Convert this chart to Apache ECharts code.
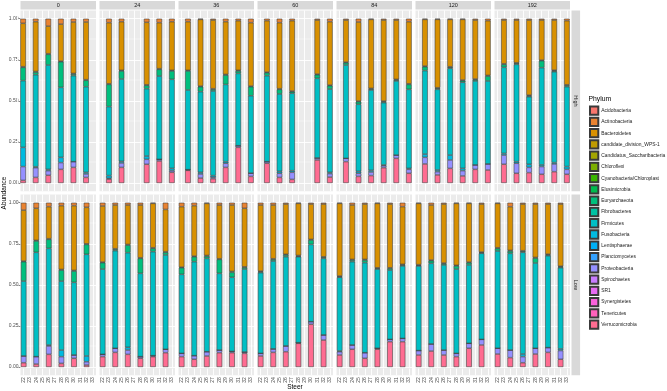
<!DOCTYPE html>
<html>
<head>
<meta charset="utf-8">
<script src="https://cdn.jsdelivr.net/npm/echarts@6/dist/echarts.min.js"></script>
<style>
html,body{margin:0;padding:0;background:#fff;}
#c{width:667px;height:391px;}
</style>
</head>
<body>
<div id="c"></div>
<script>
// ---------------- DATA ----------------
const times = ['0', '24', '36', '60', '84', '120', '192'];
const groups = ['High', 'Low'];
const steers = ['22', '23', '24', '25', '26', '27', '28', '29', '30', '31', '32', '33'];
const phyla = ['Acidobacteria', 'Actinobacteria', 'Bacteroidetes', 'candidate_division_WPS-1',
  'Candidatus_Saccharibacteria', 'Chloroflexi', 'Cyanobacteria/Chloroplast', 'Elusimicrobia',
  'Euryarchaeota', 'Fibrobacteres', 'Firmicutes', 'Fusobacteria', 'Lentisphaerae', 'Planctomycetes',
  'Proteobacteria', 'Spirochaetes', 'SR1', 'Synergistetes', 'Tenericutes', 'Verrucomicrobia'];

// panel order: 0/High, 0/Low, 24/High, 24/Low, ... 192/Low ; steer indices present in each panel
const panelSteers = [
  [1, 3, 5, 7, 9, 11], [0, 2, 4, 6, 8, 10],
  [1, 3, 7, 9, 11], [0, 2, 4, 6, 8, 10],
  [1, 3, 5, 7, 9, 11], [0, 2, 4, 6, 8, 10],
  [1, 3, 5, 9, 11], [0, 2, 4, 6, 8, 10],
  [1, 3, 5, 7, 9, 11], [0, 2, 4, 6, 8, 10],
  [1, 3, 5, 7, 9, 11], [0, 2, 4, 6, 8, 10],
  [1, 3, 5, 7, 9, 11], [0, 2, 4, 6, 8, 10]
];

const verrucomicrobia = [
  [0.016, 0.034, 0.047, 0.083, 0.095, 0.034], [0.026, 0.018, 0.077, 0.022, 0.053, 0.012],
  [0.024, 0.095, 0.114, 0.134, 0.065], [0.063, 0.089, 0.077, 0.053, 0.063, 0.087],
  [0.077, 0.030, 0.026, 0.095, 0.217, 0.040], [0.063, 0.047, 0.067, 0.087, 0.087, 0.083],
  [0.120, 0.034, 0.022, 0.140, 0.036], [0.067, 0.089, 0.093, 0.144, 0.260, 0.164],
  [0.130, 0.040, 0.045, 0.093, 0.150, 0.059], [0.073, 0.108, 0.053, 0.108, 0.154, 0.154],
  [0.116, 0.049, 0.089, 0.043, 0.083, 0.079], [0.073, 0.097, 0.073, 0.063, 0.114, 0.134],
  [0.114, 0.059, 0.063, 0.053, 0.069, 0.053], [0.079, 0.057, 0.026, 0.079, 0.089, 0.047]
];
const proteobacteria = [
  [0.084, 0.059, 0.028, 0.041, 0.035, 0.021], [0.041, 0.045, 0.051, 0.041, 0.020, 0.020],
  [0.004, 0.027, 0.030, 0.010, 0.010], [0.014, 0.025, 0.026, 0.010, 0.006, 0.021],
  [0.004, 0.025, 0.009, 0.025, 0.010, 0.020], [0.020, 0.022, 0.026, 0.016, 0.008, 0.008],
  [0.010, 0.025, 0.043, 0.012, 0.021], [0.016, 0.021, 0.035, 0.004, 0.016, 0.031],
  [0.020, 0.019, 0.022, 0.012, 0.020, 0.024], [0.020, 0.026, 0.034, 0.006, 0.014, 0.020],
  [0.040, 0.020, 0.051, 0.032, 0.027, 0.037], [0.027, 0.043, 0.030, 0.020, 0.030, 0.034],
  [0.056, 0.061, 0.032, 0.047, 0.047, 0.030], [0.035, 0.046, 0.037, 0.035, 0.029, 0.053]
];
const fusobacteria = [
  [0.117, 0.006, 0.008, 0.032, 0, 0.010], [0, 0, 0.006, 0.040, 0, 0.035],
  [0.017, 0.010, 0.020, 0, 0.014], [0, 0, 0.017, 0, 0, 0],
  [0, 0.010, 0.010, 0.010, 0, 0], [0, 0, 0, 0, 0, 0],
  [0, 0.012, 0.010, 0, 0.008], [0, 0, 0, 0, 0, 0],
  [0, 0.012, 0.010, 0.005, 0, 0.006], [0.005, 0, 0, 0, 0, 0],
  [0.020, 0.010, 0.030, 0.014, 0, 0], [0, 0, 0, 0, 0, 0],
  [0.010, 0.010, 0.019, 0.010, 0.008, 0.017], [0, 0, 0.016, 0, 0, 0.010]
];
const firmicutes = [
  [0.406, 0.560, 0.635, 0.426, 0.523, 0.521], [0.456, 0.635, 0.588, 0.420, 0.442, 0.619],
  [0.420, 0.501, 0.410, 0.507, 0.542], [0.519, 0.594, 0.576, 0.507, 0.633, 0.574],
  [0.485, 0.491, 0.515, 0.470, 0.440, 0.471], [0.481, 0.572, 0.568, 0.467, 0.451, 0.505],
  [0.523, 0.471, 0.471, 0.485, 0.507], [0.491, 0.535, 0.543, 0.523, 0.470, 0.466],
  [0.568, 0.408, 0.489, 0.379, 0.451, 0.481], [0.448, 0.507, 0.548, 0.482, 0.422, 0.441],
  [0.508, 0.491, 0.528, 0.524, 0.511, 0.505], [0.515, 0.491, 0.518, 0.513, 0.477, 0.524],
  [0.524, 0.592, 0.411, 0.592, 0.553, 0.486], [0.592, 0.589, 0.619, 0.519, 0.559, 0.494]
];
const euryarchaeota = [
  [0.081, 0.016, 0.065, 0.156, 0.010, 0.039], [0.118, 0.069, 0.055, 0.067, 0.069, 0.060],
  [0.135, 0.049, 0.020, 0.041, 0.051], [0.039, 0.008, 0.046, 0.091, 0.020, 0.016],
  [0.116, 0.030, 0.010, 0.057, 0.015, 0.055], [0.040, 0.030, 0.014, 0.085, 0.030, 0.010],
  [0.018, 0.028, 0.010, 0.022, 0.020], [0.006, 0.010, 0.011, 0.004, 0.027, 0.006],
  [0.014, 0.016, 0.006, 0.006, 0.006, 0.030], [0.004, 0.010, 0.016, 0.004, 0.010, 0.006],
  [0.024, 0.006, 0.006, 0.010, 0.008, 0.030], [0.004, 0.016, 0.008, 0.019, 0.014, 0.004],
  [0.018, 0.006, 0.006, 0.042, 0.006, 0.008], [0.016, 0.014, 0.006, 0.030, 0.006, 0.006]
];
const elusimicrobia = [
  [0.004, 0.004, 0.004, 0.004, 0.004, 0.004], [0.004, 0.004, 0.004, 0.004, 0.004, 0.004],
  [0.004, 0.004, 0.004, 0.004, 0.004], [0.004, 0.004, 0.004, 0.004, 0.004, 0.004],
  [0.004, 0.004, 0.004, 0.004, 0.004, 0.004], [0.004, 0.004, 0.004, 0.004, 0.006, 0.004],
  [0.004, 0.004, 0.004, 0.004, 0.004], [0.004, 0.004, 0.004, 0.004, 0.004, 0.004],
  [0.004, 0.004, 0.004, 0.004, 0.004, 0.004], [0.004, 0.004, 0.004, 0.004, 0.004, 0.004],
  [0.004, 0.004, 0.004, 0.004, 0.004, 0.004], [0.004, 0.004, 0.004, 0.004, 0.004, 0.004],
  [0.004, 0.004, 0.004, 0.004, 0.004, 0.004], [0.004, 0.004, 0.004, 0.004, 0.004, 0.004]
];
const bacteroidetes = [
  [0.264, 0.303, 0.168, 0.225, 0.313, 0.351], [0.310, 0.195, 0.195, 0.388, 0.394, 0.222],
  [0.372, 0.296, 0.380, 0.280, 0.296], [0.341, 0.266, 0.240, 0.321, 0.270, 0.257],
  [0.296, 0.406, 0.418, 0.321, 0.302, 0.386], [0.368, 0.307, 0.317, 0.327, 0.404, 0.356],
  [0.313, 0.402, 0.428, 0.329, 0.386], [0.402, 0.327, 0.306, 0.317, 0.215, 0.321],
  [0.256, 0.481, 0.420, 0.493, 0.361, 0.378], [0.442, 0.331, 0.337, 0.392, 0.388, 0.351],
  [0.284, 0.416, 0.288, 0.369, 0.359, 0.333], [0.373, 0.335, 0.359, 0.377, 0.357, 0.292],
  [0.266, 0.260, 0.457, 0.244, 0.305, 0.390], [0.270, 0.266, 0.284, 0.325, 0.305, 0.378]
];
const actinobacteria = [
  [0.028, 0.018, 0.045, 0.033, 0.020, 0.020], [0.045, 0.034, 0.024, 0.018, 0.018, 0.028],
  [0.024, 0.018, 0.022, 0.024, 0.018], [0.020, 0.014, 0.014, 0.014, 0.004, 0.041],
  [0.018, 0.004, 0.008, 0.018, 0.012, 0.024], [0.024, 0.018, 0.004, 0.014, 0.014, 0.034],
  [0.012, 0.024, 0.012, 0.008, 0.018], [0.014, 0.014, 0.008, 0.004, 0.008, 0.008],
  [0.008, 0.020, 0.004, 0.008, 0.008, 0.018], [0.004, 0.014, 0.008, 0.004, 0.008, 0.024],
  [0.004, 0.004, 0.004, 0.004, 0.008, 0.012], [0.004, 0.014, 0.008, 0.004, 0.004, 0.008],
  [0.008, 0.008, 0.008, 0.008, 0.008, 0.012], [0.004, 0.024, 0.008, 0.008, 0.008, 0.008]
];

// ---------------- STYLE / LAYOUT ----------------
const hue = ['#F8766D', '#EA8331', '#D89000', '#C09B00', '#A3A500', '#7CAE00', '#39B600', '#00BB4E',
  '#00BF7D', '#00C1A3', '#00BFC4', '#00BAE0', '#00B0F6', '#35A2FF', '#9590FF', '#C77CFF', '#E76BF3',
  '#FA62DB', '#FF62BC', '#FF6C91'];
const colorOf = n => hue[phyla.indexOf(n)];
const stackSeries = [
  ['Verrucomicrobia', verrucomicrobia], ['Proteobacteria', proteobacteria], ['Fusobacteria', fusobacteria],
  ['Firmicutes', firmicutes], ['Euryarchaeota', euryarchaeota], ['Elusimicrobia', elusimicrobia],
  ['Bacteroidetes', bacteroidetes], ['Actinobacteria', actinobacteria]
];

const FONT = 'Liberation Sans, Arial, Helvetica, sans-serif';
const colLeft0 = 20.5, colStep = 79, panelW = 75.5;
const rowTop = [10.5, 194.5], panelH = 180.7;
const barW = 0.9 * panelW / 12.2;

const grids = [], xAxes = [], yAxes = [], series = [], graphic = [];

function gridMarks() {
  const d = [];
  [0, 0.25, 0.5, 0.75, 1].forEach(v => d.push({ yAxis: v, lineStyle: { color: '#fff', width: 0.9, type: 'solid' } }));
  [0.125, 0.375, 0.625, 0.875].forEach(v => d.push({ yAxis: v, lineStyle: { color: '#fff', width: 0.45, type: 'solid' } }));
  steers.forEach(s => d.push({ xAxis: s, lineStyle: { color: '#fff', width: 0.9, type: 'solid' } }));
  return { silent: true, symbol: ['none', 'none'], label: { show: false }, z: 1, animation: false, data: d };
}

for (let r = 0; r < 2; r++) {
  for (let c = 0; c < 7; c++) {
    const g = grids.length;
    const p = c * 2 + r;
    const left = colLeft0 + c * colStep;
    grids.push({ left: left, top: rowTop[r], width: panelW, height: panelH, show: true,
      backgroundColor: '#EBEBEB', borderWidth: 0, containLabel: false });
    xAxes.push({
      gridIndex: g, type: 'category', data: steers, boundaryGap: true,
      axisLine: { show: false }, splitLine: { show: false },
      axisTick: { show: r === 1, alignWithLabel: true, length: 2, lineStyle: { color: '#333', width: 0.6 } },
      axisLabel: { show: r === 1, interval: 0, rotate: 90, fontSize: 5, color: '#4D4D4D', margin: 2, fontFamily: FONT }
    });
    yAxes.push({
      gridIndex: g, type: 'value', min: -0.05, max: 1.05,
      axisLine: { show: false }, splitLine: { show: false },
      axisTick: { show: c === 0, length: 2, customValues: [0, 0.25, 0.5, 0.75, 1], lineStyle: { color: '#333', width: 0.6 } },
      axisLabel: { show: c === 0, customValues: [0, 0.25, 0.5, 0.75, 1], fontSize: 5, color: '#4D4D4D', margin: 2,
        fontFamily: FONT, formatter: v => Number(v).toFixed(2) }
    });
    stackSeries.forEach(([name, arr], k) => {
      const data = steers.map(() => null);
      panelSteers[p].forEach((si, i) => { data[si] = arr[p][i]; });
      const s = {
        type: 'bar', name: name, xAxisIndex: g, yAxisIndex: g, stack: 'st' + g,
        barWidth: barW, z: 2, animation: false,
        itemStyle: { color: colorOf(name), borderColor: '#3a3a3a', borderWidth: 0.55 },
        data: data
      };
      if (k === 0) s.markLine = gridMarks();
      series.push(s);
    });
    // top strip
    if (r === 0) {
      graphic.push({ type: 'rect', shape: { x: left, y: 1, width: panelW, height: 8.6 }, style: { fill: '#D9D9D9' }, silent: true });
      graphic.push({ type: 'text', x: left + panelW / 2, y: 5.4, silent: true,
        style: { text: times[c], fill: '#1A1A1A', fontSize: 5.5, fontFamily: FONT, align: 'center', verticalAlign: 'middle' } });
    }
  }
  // right strip
  graphic.push({ type: 'rect', shape: { x: 571.5, y: rowTop[r], width: 8.6, height: panelH }, style: { fill: '#D9D9D9' }, silent: true });
  graphic.push({ type: 'text', x: 575.8, y: rowTop[r] + panelH / 2, rotation: -Math.PI / 2, silent: true,
    style: { text: groups[r], fill: '#1A1A1A', fontSize: 5.5, fontFamily: FONT, align: 'center', verticalAlign: 'middle' } });
}

// legend-only series for phyla not drawn in stacks
phyla.forEach(n => {
  if (!stackSeries.some(s => s[0] === n)) {
    series.push({ type: 'bar', name: n, xAxisIndex: 0, yAxisIndex: 0, data: [], animation: false,
      itemStyle: { color: colorOf(n), borderColor: '#3a3a3a', borderWidth: 0.55 } });
  }
});

// axis titles & legend title
graphic.push({ type: 'text', x: 4.5, y: 193, rotation: Math.PI / 2, silent: true,
  style: { text: 'Abundance', fill: '#000', fontSize: 6.5, fontFamily: FONT, align: 'center', verticalAlign: 'middle' } });
graphic.push({ type: 'text', x: 295, y: 387, silent: true,
  style: { text: 'Steer', fill: '#000', fontSize: 6.5, fontFamily: FONT, align: 'center', verticalAlign: 'middle' } });
graphic.push({ type: 'text', x: 588.5, y: 99.5, silent: true,
  style: { text: 'Phylum', fill: '#000', fontSize: 6.8, fontFamily: FONT, align: 'left', verticalAlign: 'middle' } });

const chart = echarts.init(document.getElementById('c'), null, { renderer: 'canvas' });
chart.setOption({
  animation: false,
  backgroundColor: '#fff',
  textStyle: { fontFamily: FONT },
  grid: grids, xAxis: xAxes, yAxis: yAxes, series: series, graphic: graphic,
  legend: {
    data: phyla, orient: 'vertical', left: 589, top: 105.5, icon: 'rect',
    itemWidth: 8.3, itemHeight: 8.3, itemGap: 0.96, selectedMode: false, padding: 0,
    textStyle: { fontSize: 4.9, color: '#1A1A1A', fontFamily: FONT, padding: [0, 0, 0, -2] }
  }
});
</script>
</body>
</html>
